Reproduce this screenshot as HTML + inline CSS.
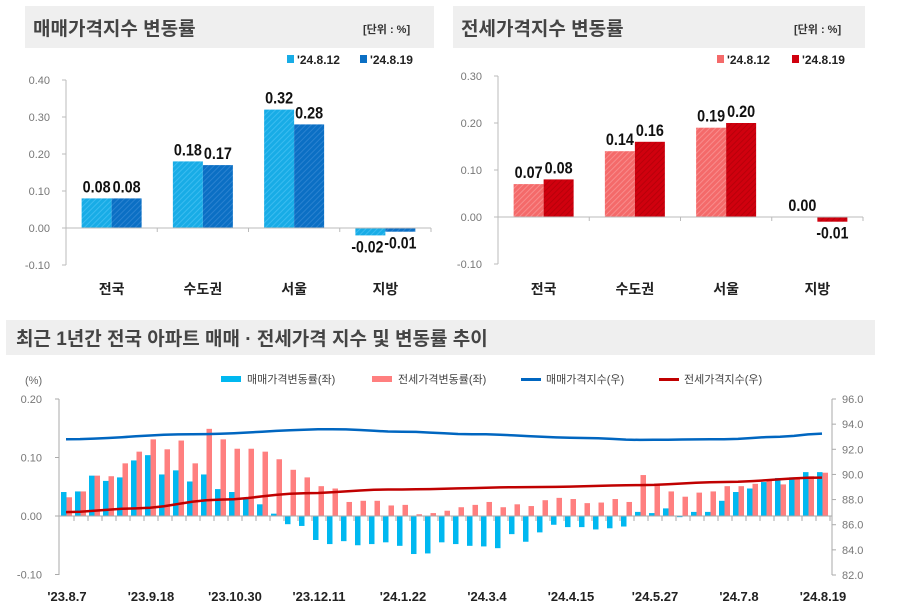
<!DOCTYPE html><html><head><meta charset="utf-8"><style>
body{margin:0;background:#fff;width:912px;height:615px;overflow:hidden;font-family:"Liberation Sans","Noto Sans CJK KR",sans-serif}
svg{position:absolute;left:0;top:0}
</style></head><body>
<svg id="s" width="912" height="615" xmlns="http://www.w3.org/2000/svg" font-family="Liberation Sans, Noto Sans CJK KR, sans-serif">
<defs>
<pattern id="hb" width="4" height="4" patternUnits="userSpaceOnUse" patternTransform="rotate(45)"><rect width="4" height="4" fill="#18ace6"/><rect width="1" height="4" fill="#3bbcf0"/></pattern>
<pattern id="hd" width="4" height="4" patternUnits="userSpaceOnUse" patternTransform="rotate(45)"><rect width="4" height="4" fill="#0b6fc4"/><rect width="1" height="4" fill="#2a82d0"/></pattern>
<pattern id="hr" width="4" height="4" patternUnits="userSpaceOnUse" patternTransform="rotate(45)"><rect width="4" height="4" fill="#f46a6a"/><rect width="1" height="4" fill="#f88c8c"/></pattern>
<pattern id="hdr" width="4" height="4" patternUnits="userSpaceOnUse" patternTransform="rotate(45)"><rect width="4" height="4" fill="#d0000e"/><rect width="1" height="4" fill="#b8000a"/></pattern>
</defs>
<rect x="25" y="6" width="409" height="42" fill="#efefef"/>
<text x="33" y="35" font-size="19" font-weight="bold" fill="#444">매매가격지수 변동률</text>
<text x="363" y="33" font-size="11" font-weight="bold" fill="#333">[단위 : %]</text>
<rect x="453" y="6" width="412" height="42" fill="#efefef"/>
<text x="461" y="35" font-size="19" font-weight="bold" fill="#444">전세가격지수 변동률</text>
<text x="794" y="33" font-size="11" font-weight="bold" fill="#333">[단위 : %]</text>
<rect x="287" y="55" width="7" height="8" fill="#18ace6"/><text x="297" y="64" font-size="12" font-weight="bold" fill="#222">'24.8.12</text>
<rect x="360" y="55" width="7" height="8" fill="#0b6fc4"/><text x="370" y="64" font-size="12" font-weight="bold" fill="#222">'24.8.19</text>
<rect x="717" y="55" width="7" height="8" fill="#f46a6a"/><text x="727" y="64" font-size="12" font-weight="bold" fill="#222">'24.8.12</text>
<rect x="792" y="55" width="7" height="8" fill="#d0000e"/><text x="802" y="64" font-size="12" font-weight="bold" fill="#222">'24.8.19</text>
<g id="g"></g>
<rect x="6" y="320" width="869" height="35" fill="#efefef"/>
<text x="16" y="345" font-size="19" font-weight="bold" fill="#444">최근 1년간 전국 아파트 매매 · 전세가격 지수 및 변동률 추이</text>
<text x="25" y="384" font-size="11" fill="#666">(%)</text>
<rect x="221" y="376" width="20" height="6" fill="#00b8f0"/><text x="247" y="383" font-size="11" fill="#444">매매가격변동률(좌)</text>
<rect x="372" y="376" width="20" height="6" fill="#ff7f7f"/><text x="398" y="383" font-size="11" fill="#444">전세가격변동률(좌)</text>
<rect x="521" y="378" width="20" height="3" fill="#0066c0"/><text x="546" y="383" font-size="11" fill="#444">매매가격지수(우)</text>
<rect x="659" y="378" width="20" height="3" fill="#c00000"/><text x="684" y="383" font-size="11" fill="#444">전세가격지수(우)</text>
</svg>
<script>
(function(){
var g=document.getElementById('g'),h='';
function T(x,y,t,a){return '<text x="'+x+'" y="'+y+'" '+a+'>'+t+'</text>';}
function drawTop(ax,x1,z,u,ticks,cols,data,lbls){
 h+='<line x1="'+ax+'" y1="'+(z-ticks[0]*u*10)+'" x2="'+ax+'" y2="'+(z+u)+'" stroke="#bbb"/>';
 ticks.forEach(function(t){var y=z-t*u*10;h+='<line x1="'+(ax-4)+'" y1="'+y+'" x2="'+ax+'" y2="'+y+'" stroke="#bbb"/>';h+=T(ax-16,y+4,t.toFixed(2),'font-size="11" fill="#777" text-anchor="end"');});
 var sp=(x1-ax)/4;
 for(var i=0;i<=4;i++){var x=ax+sp*i;h+='<line x1="'+x+'" y1="'+z+'" x2="'+x+'" y2="'+(z+4)+'" stroke="#bbb"/>';}
 for(var i=0;i<4;i++){var c=ax+sp*(i+0.5);
  for(var j=0;j<2;j++){var v=data[i][j],x=c-30+30*j,hh=Math.abs(v)*u*10,y=v>=0?z-hh:z;
   h+='<rect x="'+x+'" y="'+y+'" width="30" height="'+hh+'" fill="url(#'+cols[j]+')"/>';
   var ly=v>=0?y-6:z+hh+17;var lx=x+15;if(v<0&&j==0)lx-=3;
   h+=T(lx,ly,v.toFixed(2),'font-size="17" font-weight="bold" fill="#111" text-anchor="middle" textLength="'+(v<0?32:28)+'" lengthAdjust="spacingAndGlyphs"');}
  h+=T(c,294,lbls[i],'font-size="14" font-weight="bold" fill="#222" text-anchor="middle"');}
 h+='<line x1="'+ax+'" y1="'+z+'" x2="'+x1+'" y2="'+z+'" stroke="#bbb"/>';
}
var L=['전국','수도권','서울','지방'];
drawTop(66,431,228,37,[0.4,0.3,0.2,0.1,0,-0.1],['hb','hd'],[[0.08,0.08],[0.18,0.17],[0.32,0.28],[-0.02,-0.01]],L);
drawTop(498,863,217,47,[0.3,0.2,0.1,0,-0.1],['hr','hdr'],[[0.07,0.08],[0.14,0.16],[0.19,0.20],[0,-0.01]],L);
var B=[.041,.042,.069,.06,.066,.095,.104,.071,.078,.059,.071,.046,.041,.03,.02,.004,-.014,-.017,-.041,-.048,-.043,-.05,-.048,-.045,-.051,-.065,-.064,-.045,-.048,-.051,-.052,-.055,-.031,-.044,-.028,-.015,-.019,-.019,-.023,-.021,-.018,.007,.005,.013,-.002,.007,.007,.026,.041,.047,.058,.065,.066,.075,.075];
var R=[.032,.042,.069,.068,.09,.11,.131,.114,.129,.09,.149,.131,.115,.115,.11,.097,.079,.066,.051,.047,.024,.026,.026,.018,.019,.003,.005,.009,.015,.019,.024,.015,.02,.017,.027,.031,.029,.022,.023,.029,.024,.07,.053,.042,.033,.04,.042,.051,.051,.055,.062,.054,.064,.068,.074];
var Z=516,U=585;
h+='<line x1="59" y1="399" x2="59" y2="575" stroke="#aaa"/><line x1="832" y1="399" x2="832" y2="575" stroke="#aaa"/>';
[[0.2,'0.20'],[0.1,'0.10'],[0,'0.00'],[-0.1,'-0.10']].forEach(function(t){var y=Z-t[0]*U;h+='<line x1="55" y1="'+y+'" x2="59" y2="'+y+'" stroke="#aaa"/>'+T(42,y+4,t[1],'font-size="11" fill="#777" text-anchor="end"');});
for(var v=82;v<=96;v+=2){var y=575-(v-82)*12.571;h+='<line x1="832" y1="'+y+'" x2="836" y2="'+y+'" stroke="#aaa"/>'+T(842,y+4,v.toFixed(1),'font-size="11" fill="#777"');}
for(var i=0;i<55;i++){var x=61+14*i;
 var v=B[i],hh=Math.abs(v)*U;h+='<rect x="'+x+'" y="'+(v>=0?Z-hh:Z)+'" width="5.5" height="'+hh+'" fill="#00b8f0"/>';
 v=R[i];hh=Math.abs(v)*U;h+='<rect x="'+(x+5.5)+'" y="'+(v>=0?Z-hh:Z)+'" width="5.5" height="'+hh+'" fill="#ff7f7f"/>';
 h+='<line x1="'+(x+13)+'" y1="'+Z+'" x2="'+(x+13)+'" y2="'+(Z+5)+'" stroke="#aaa"/>';}
h+='<line x1="59" y1="'+Z+'" x2="832" y2="'+Z+'" stroke="#aaa"/>';
function interp(pts){var o=[];for(var i=1;i<=55;i++){for(var k=0;k<pts.length-1;k++){if(i>=pts[k][0]&&i<=pts[k+1][0]){var t=(i-pts[k][0])/(pts[k+1][0]-pts[k][0]);t=(1-Math.cos(t*Math.PI))/2;o.push(pts[k][1]+(pts[k+1][1]-pts[k][1])*t);break;}}}return o;}
function line(vals,c){var p='';vals.forEach(function(v,i){p+=(i?'L':'M')+(66+14*i)+' '+(575-(v-82)*12.571).toFixed(1);});h+='<path d="'+p+'" fill="none" stroke="'+c+'" stroke-width="2.5"/>';}
line(interp([[1,92.8],[10,93.2],[20,93.6],[25,93.4],[30,93.2],[38,92.9],[42,92.75],[48,92.8],[52,93.0],[55,93.25]]),'#0066c0');
line(interp([[1,87.0],[6,87.3],[12,88.0],[18,88.5],[24,88.8],[35,89.0],[42,89.15],[48,89.4],[55,89.75]]),'#c00000');
['\'23.8.7','\'23.9.18','\'23.10.30','\'23.12.11','\'24.1.22','\'24.3.4','\'24.4.15','\'24.5.27','\'24.7.8','\'24.8.19'].forEach(function(s,k){h+=T(67+84*k,601,s,'font-size="13" font-weight="bold" fill="#222" text-anchor="middle"');});
g.innerHTML=h;
})();
</script>
</body></html>
